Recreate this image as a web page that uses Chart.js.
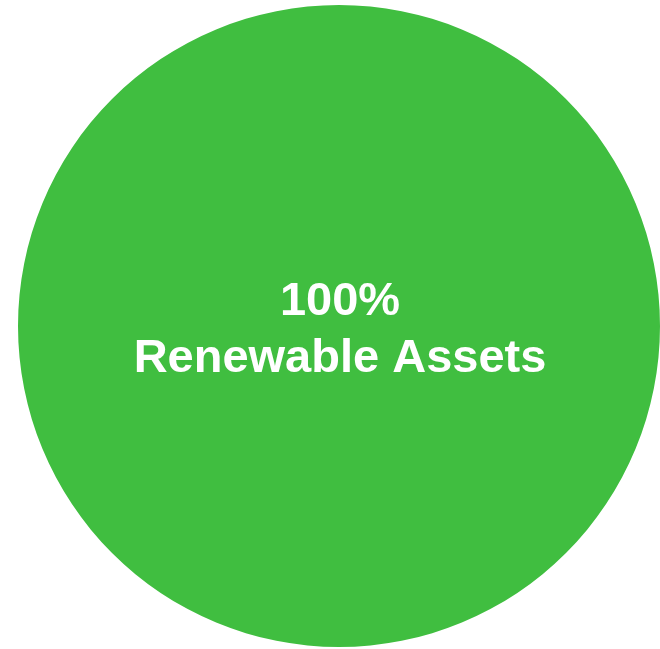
<!DOCTYPE html>
<html>
<head>
<meta charset="utf-8">
<style>
    html, body { margin: 0; padding: 0; background: #ffffff; }
    #wrap { width: 660px; height: 649px; position: relative; }
</style>
<script src="https://cdn.jsdelivr.net/npm/chart.js@4"></script>
</head>
<body>
<div id="wrap"><canvas id="assetChart"></canvas></div>
<script>
const labels = ['Renewable Assets'];
const shares = [100];
const colors = ['#40be40'];

// Writes the share and its label in the middle of the pie
const centerText = {
    id: 'centerText',
    afterDraw(chart) {
        const ctx = chart.ctx;
        const arc = chart.getDatasetMeta(0).data[0];
        if (!arc) return;
        ctx.save();
        ctx.fillStyle = '#ffffff';
        ctx.textAlign = 'center';
        ctx.textBaseline = 'alphabetic';
        ctx.font = 'bold 47px "Liberation Sans", Arial, sans-serif';
        ctx.fillText(`${shares[0]}%`, arc.x + 1, arc.y - 11);
        ctx.fillText(labels[0], arc.x + 1, arc.y + 46);
        ctx.restore();
    }
};

new Chart(document.getElementById('assetChart'), {
    type: 'pie',
    data: {
        labels: labels,
        datasets: [{
            data: shares,
            backgroundColor: colors,
            borderWidth: 0
        }]
    },
    options: {
        responsive: true,
        maintainAspectRatio: false,
        animation: false,
        layout: { padding: { left: 18, right: 0, top: 5, bottom: 2 } },
        plugins: {
            legend: { display: false },
            tooltip: { enabled: false }
        }
    },
    plugins: [centerText]
});
</script>
</body>
</html>
